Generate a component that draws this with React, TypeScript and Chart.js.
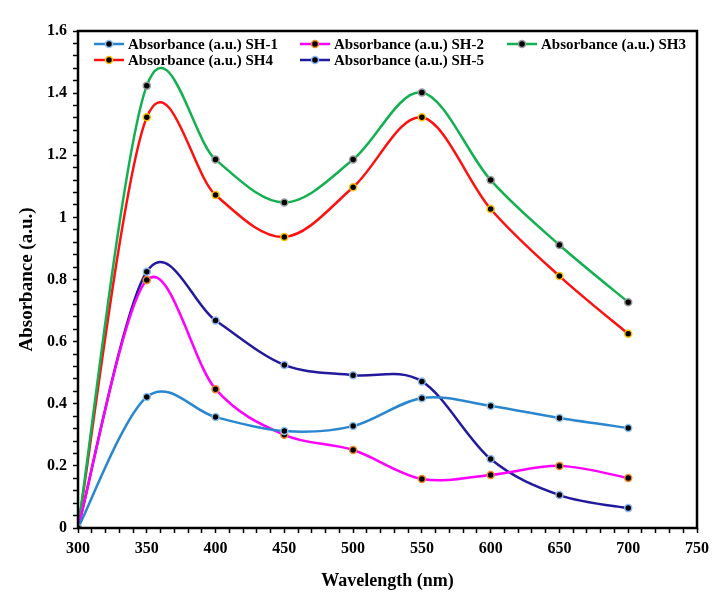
import React, { useEffect, useRef } from "react";
import { Chart, registerables } from "chart.js";
Chart.register(...registerables);

const wavelengths = [300, 350, 400, 450, 500, 550, 600, 650, 700];
const sh1 = [0, 0.422, 0.357, 0.312, 0.328, 0.418, 0.393, 0.354, 0.322];
const sh2 = [0, 0.798, 0.447, 0.3, 0.251, 0.158, 0.171, 0.2, 0.161];
const sh3 = [0, 1.424, 1.186, 1.048, 1.186, 1.402, 1.12, 0.911, 0.727];
const sh4 = [0, 1.322, 1.072, 0.937, 1.097, 1.322, 1.027, 0.811, 0.625];
const sh5 = [0, 0.825, 0.668, 0.525, 0.492, 0.472, 0.222, 0.106, 0.064];

const seriesLabels = [
  "Absorbance (a.u.) SH-1",
  "Absorbance (a.u.) SH-2",
  "Absorbance (a.u.) SH3",
  "Absorbance (a.u.) SH4",
  "Absorbance (a.u.) SH-5",
];
const seriesValues = [sh1, sh2, sh3, sh4, sh5];
const lineColors = ["#2a87cf", "#ff00ff", "#12b050", "#ff1010", "#23199c"];
const markerBorders = ["#8fc4f0", "#f08a2a", "#9a9a9a", "#ffc000", "#8fb8f0"];

const xTitle = "Wavelength (nm)";
const yTitle = "Absorbance (a.u.)";

const FONT = "'Liberation Serif', 'Times New Roman', serif";

// Excel-like smoothing: uniform Catmull-Rom control points (factor 1/6)
const smoothPlugin = {
  id: "excelSmooth",
  beforeDatasetDraw(chart: any, args: any) {
    const meta = args.meta;
    const line = meta.dataset;
    if (!line) return;
    line.updateControlPoints(chart.chartArea, "x");
    const pts = meta.data;
    const n = pts.length;
    const k = 1 / 6;
    for (let i = 0; i < n; i++) {
      const p = pts[i];
      const prev = pts[Math.max(0, i - 1)];
      const next = pts[Math.min(n - 1, i + 1)];
      const tx = (next.x - prev.x) * k;
      const ty = (next.y - prev.y) * k;
      p.cp1x = p.x - tx;
      p.cp1y = p.y - ty;
      p.cp2x = p.x + tx;
      p.cp2y = p.y + ty;
    }
    line._path = undefined;
  },
};

const framePlugin = {
  id: "frameAndLegend",
  afterDraw(chart: any) {
    const { ctx, chartArea } = chart;
    ctx.save();
    ctx.strokeStyle = "#000";
    ctx.lineWidth = 2.5;
    ctx.strokeRect(chartArea.left, chartArea.top, chartArea.right - chartArea.left, chartArea.bottom - chartArea.top);
    // legend
    const colX = [chartArea.left + 16, chartArea.left + 222, chartArea.left + 429];
    const rowY = [chartArea.top + 13, chartArea.top + 29];
    ctx.font = `bold 15px ${FONT}`;
    ctx.textBaseline = "middle";
    ctx.textAlign = "left";
    chart.data.datasets.forEach((ds: any, i: number) => {
      const x = colX[i % 3];
      const y = rowY[Math.floor(i / 3)];
      ctx.strokeStyle = ds.borderColor;
      ctx.lineWidth = 2.5;
      ctx.beginPath();
      ctx.moveTo(x, y);
      ctx.lineTo(x + 30, y);
      ctx.stroke();
      ctx.beginPath();
      ctx.arc(x + 15, y, 3.5, 0, Math.PI * 2);
      ctx.fillStyle = "#000";
      ctx.fill();
      ctx.lineWidth = 1.5;
      ctx.strokeStyle = ds.pointBorderColor;
      ctx.stroke();
      ctx.fillStyle = "#000";
      ctx.fillText(ds.label, x + 34, y + 1);
    });
    ctx.restore();
  },
};

export default function App() {
  const ref = useRef<HTMLCanvasElement>(null);
  useEffect(() => {
    if (!ref.current) return;
    const datasets = seriesLabels.map((label, i) => ({
      label,
      data: wavelengths.map((w, j) => ({ x: w, y: seriesValues[i][j] })),
      borderColor: lineColors[i],
      backgroundColor: lineColors[i],
      borderWidth: 2.5,
      pointRadius: 3.5,
      pointBackgroundColor: "#000",
      pointBorderColor: markerBorders[i],
      pointBorderWidth: 1.5,
      tension: 0.4,
      fill: false,
    }));
    const chart = new Chart(ref.current, {
      type: "line",
      data: { datasets },
      options: {
        animation: false,
        responsive: true,
        maintainAspectRatio: false,
        layout: { padding: { left: 0, top: 31, right: 23, bottom: 0 } },
        plugins: { legend: { display: false }, tooltip: { enabled: false } },
        scales: {
          x: {
            type: "linear",
            min: 300,
            max: 750,
            afterFit: (s: any) => { s.height = 68; },
            border: { display: false },
            grid: { drawOnChartArea: false, drawTicks: true, tickLength: 5, color: "#000", tickWidth: 1.5 },
            ticks: {
              stepSize: 10,
              autoSkip: false,
              maxTicksLimit: 1000,
              maxRotation: 0,
              padding: 6,
              color: "#000",
              font: { family: FONT, size: 16, weight: "bold" },
              callback: (v: any) => (Math.round(v) % 50 === 0 ? String(Math.round(v)) : ""),
            },
            title: { display: true, text: xTitle, color: "#000", font: { family: FONT, size: 18, weight: "bold" }, padding: { top: 7 } },
          },
          y: {
            min: 0,
            max: 1.6,
            afterFit: (s: any) => { s.width = 78; },
            border: { display: false },
            grid: { drawOnChartArea: false, drawTicks: true, tickLength: 5, color: "#000", tickWidth: 1.5 },
            ticks: {
              stepSize: 0.04,
              autoSkip: false,
              maxTicksLimit: 1000,
              padding: 6,
              color: "#000",
              font: { family: FONT, size: 16, weight: "bold" },
              callback: (v: any) => {
                const r = Math.round(v * 100) / 100;
                return Math.abs(r * 5 - Math.round(r * 5)) < 1e-6 ? String(r) : "";
              },
            },
            title: { display: true, text: yTitle, color: "#000", font: { family: FONT, size: 19, weight: "bold" }, padding: { top: 16, bottom: 0 } },
          },
        },
      } as any,
      plugins: [smoothPlugin, framePlugin],
    });
    return () => chart.destroy();
  }, []);
  return (
    <div style={{ position: "absolute", left: 0, top: 0, width: 720, height: 596, background: "#fff" }}>
      <canvas ref={ref} />
    </div>
  );
}
